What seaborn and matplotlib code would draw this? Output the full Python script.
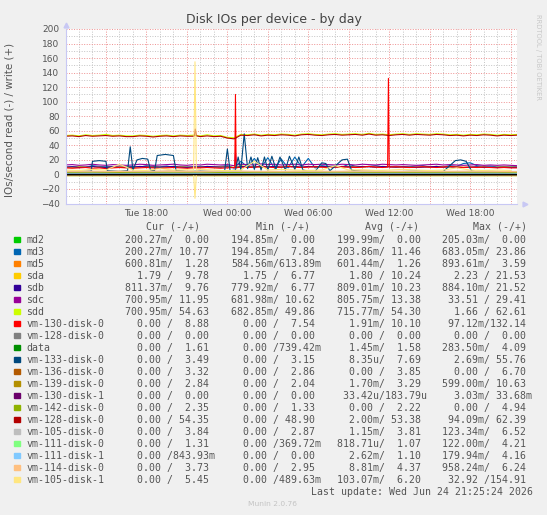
import numpy as np
import pandas as pd
import seaborn as sns
import matplotlib.pyplot as plt
from matplotlib.patches import Rectangle

sns.set_style("white")
plt.rcParams['font.family'] = ['DejaVu Sans']

W, H = 547, 515

# ---------------- data: hours since Tue 12:00 ----------------
T = np.arange(0, 34, 0.5)      # half-hour samples for the busy devices
T1 = np.arange(0, 34, 1.0)     # hourly samples
T2 = np.array([0, 2, 4, 6, 8, 10, 12, 14, 16, 18, 20, 22, 24, 26, 28, 30, 32, 33.5])

sdd_w = [53.5, 54, 53, 54.5, 53.5, 54, 55, 53.5, 54, 53,
         53, 54, 53.5, 52.5, 53.5, 54, 53, 54, 53.5, 54,
         53, 54.5, 53, 53.5, 51, 50.5, 55, 54.5, 55.5, 54,
         55, 54.5, 55.5, 55, 54, 55.5, 56, 55, 54.5, 55.5,
         56, 55, 55.5, 56, 55, 56.5, 55, 55.5, 54.5, 55.5,
         56, 55, 56, 55.5, 55, 56, 55.5, 54.5, 55, 54,
         55, 54.5, 55.5, 55, 54, 55, 54.5, 55]
vm128b_w = [52.5, 53, 52, 53.5, 52.5, 53, 53.5, 52.5, 53, 52,
            52, 53, 52.5, 51.5, 52.5, 53, 52, 53, 52.5, 52.5,
            52, 53, 52, 52.5, 50, 48.9, 54, 53.5, 54.5, 53,
            54, 53.5, 54.5, 54, 53, 54.5, 55, 54, 53.5, 54.5,
            55, 54, 54.5, 55, 54, 55.5, 54, 54.5, 53.5, 54.5,
            55, 54, 55, 54.5, 54, 55, 54.5, 53.5, 54, 53,
            54, 53.5, 54.5, 54, 53, 54, 53.5, 54]
sdc_w = [13, 13.5, 12.5, 13, 14, 13, 12.5, 13.5, 13, 12.5,
         13, 14, 13.5, 12.5, 13, 13.5, 14, 13, 12.5, 13.5,
         13, 14, 13.5, 13, 13.5, 12, 14, 13.5, 13, 14.5,
         13.5, 14, 13, 13.5, 14, 13, 14, 13.5, 14, 13.5,
         13, 14, 13.5, 13, 14, 13.5, 13, 14, 13.5, 13,
         13.5, 13, 12.5, 13, 13.5, 14, 13, 13.5, 13, 12.5,
         13, 13.5, 12.5, 13, 12.5, 13, 12.5, 12]
sdb_w = [10, 10.5, 9.5, 10, 11, 10, 9.5, 10.5, 10, 9.5,
         10, 11, 10.5, 10, 10, 10.5, 11, 10, 9.5, 10.5,
         10, 11, 10.5, 10, 10.5, 9, 11, 10.5, 10, 11.5,
         10.5, 11, 10, 10.5, 11, 10, 11, 10.5, 11, 10.5,
         10, 11, 10.5, 10, 11, 10.5, 10, 11, 10.5, 10,
         10.5, 10, 9.5, 10, 10.5, 11, 10, 10.5, 10, 9.5,
         10, 10.5, 9.5, 10, 9.5, 10, 9.5, 9.5]
sda_w = [10, 9.5, 10.5, 10, 11, 10, 9.5, 10, 10.5, 10,
         9.5, 10.5, 11, 10, 10, 9.5, 11, 10.5, 10, 9.5,
         10, 11, 10, 10.5, 11, 9.5, 12, 10.5, 11, 10,
         10.5, 11, 10, 11.5, 10.5, 10, 11, 10.5, 10, 11,
         10.5, 10, 11, 10.5, 10, 11, 10, 10.5, 11, 10,
         10.5, 10, 9.5, 10.5, 10, 11, 10.5, 10, 10.5, 10,
         10, 10.5, 10, 9.5, 10, 10.5, 10, 10]
md3_w = [10, 10.5, 11, 10, 12, 11, 10.5, 11, 10, 10.5,
         11, 10, 12, 11, 10.5, 11.5, 10, 11, 10.5, 10,
         11, 10.5, 10, 11, 12, 9, 18, 10, 22, 9,
         23, 8.5, 21, 9, 23.9, 10, 22, 9, 12, 11,
         11.5, 10, 14, 11, 10.5, 11, 12, 10.5, 11, 10,
         11, 10.5, 11.5, 12, 10, 11, 10.5, 12, 11, 15,
         16, 12, 11, 11.5, 10.5, 11, 10.5, 11]
vm130_w = [9, 8.5, 9, 9.5, 8.5, 9, 8, 9, 9.5, 9,
           8.5, 9, 9.5, 9, 8, 9, 9.5, 9, 8.5, 9,
           9, 9.5, 9, 8.5, 9, 9.5, 10, 9.5, 10, 10.5,
           10, 9.5, 10, 11, 10, 9.5, 10, 10.5, 10, 9.5,
           10, 10.5, 10, 9.5, 10, 11, 10, 9.5, 10, 10.5,
           10, 9.5, 10, 10.5, 10, 9.5, 10, 11, 10, 9.5,
           10, 9.5, 10, 9.5, 9, 9.5, 9, 9]

# vm-133-disk-0 write, read at its own change points
vm133_t = [0, 1, 1.9, 2.0, 2.5, 3.0, 3.1, 4, 4.6, 4.8, 5.0, 5.3, 5.7, 6.1, 6.3,
           6.6, 6.8, 7.4, 8.0, 8.2, 9, 10, 11, 11.8, 12.0, 12.2, 12.6, 12.8,
           13.0, 13.25, 13.5, 13.75, 14.0, 14.25, 14.5, 14.75, 15.0, 15.3, 15.6,
           15.9, 16.3, 16.6, 17.0, 17.3, 17.6, 17.9, 18.5, 19.0, 19.3, 19.6,
           20.5, 20.9, 21.2, 21.5, 22, 23, 24, 25, 26, 27, 28, 28.9, 29.3,
           29.7, 30.1, 30.4, 31, 32, 33.5]
vm133_w = [4, 4, 4.5, 18, 19, 18, 5, 4, 5, 38, 6, 20, 22, 21, 6,
           5, 26, 27.5, 26, 5, 4, 4.5, 4, 5, 35, 5, 6, 24,
           6, 55.8, 8, 24, 7, 23, 6, 24, 6, 25, 7,
           24, 6, 25, 7, 24, 6, 5, 4, 16, 15, 5,
           20, 21, 6, 5, 4, 4.5, 4, 4, 4.5, 4, 4, 19, 20,
           18, 5, 4, 4.5, 4, 4]

# quieter devices, two-hourly
md2_w = [0.0] * 18
md5_w = [1.2, 1.3, 1.1, 1.4, 1.2, 1.3, 1.5, 1.2, 1.1, 1.3, 1.2, 1.4, 1.2, 1.3, 1.1, 1.3, 1.2, 1.3]
data_w = [1.6, 1.5, 1.7, 1.5, 1.6, 1.4, 1.8, 1.6, 1.5, 1.7, 1.6, 1.5, 1.6, 1.7, 1.5, 1.6, 1.5, 1.6]
vm136_w = [3.9, 3.6, 4.2, 3.8, 4.5, 3.7, 4.1, 3.9, 3.5, 4.0, 3.8, 4.3, 3.7, 3.9, 3.6, 4.0, 3.8, 3.3]
vm139_w = [3.2, 3.5, 3.0, 3.4, 3.6, 3.1, 3.3, 3.5, 3.2, 3.0, 3.4, 3.3, 3.1, 3.5, 3.2, 3.4, 3.0, 2.8]
vm1301_w = [0.0] * 18
vm142_w = [2.2, 2.3, 2.0, 2.4, 2.1, 2.2, 2.5, 2.2, 2.1, 2.3, 2.2, 2.0, 2.3, 2.2, 2.4, 2.1, 2.2, 2.35]
vm128a_w = [0.0] * 18
vm1050_w = [3.8, 3.6, 4.0, 3.7, 3.9, 3.5, 4.2, 3.8, 3.7, 3.9, 3.6, 4.0, 3.8, 3.9, 3.7, 3.8, 3.6, 3.84]
vm1110_w = [1.1, 1.0, 1.2, 0.9, 1.1, 1.0, 1.3, 1.1, 1.0, 1.1, 0.9, 1.2, 1.0, 1.1, 1.0, 1.2, 1.0, 1.31]
vm1111_w = [1.1, 1.2, 1.0, 1.1, 1.3, 1.0, 1.2, 1.1, 1.0, 1.2, 1.1, 1.0, 1.2, 1.1, 1.0, 1.1, 1.0, 0.84]
vm114_w = [4.3, 4.5, 4.1, 4.6, 4.2, 4.4, 4.8, 4.3, 4.2, 4.5, 4.3, 4.6, 4.2, 4.4, 4.3, 4.5, 4.2, 3.73]
vm1051_w = [6, 5.5, 7, 6, 14, 6, 5.5, 8, 6, 6.5, 7, 6, 5, 6, 18, 6, 7,
            6, 5.5, 6, 12, 6, 6.5, 5.5, 6, 7, 6, 5.5, 6, 9, 6, 5.5, 6, 5.5]

# reads (drawn below zero)
md2_r = [-0.2] * 18
md3_r = [-0.2] * 18
md5_r = [-0.6, -0.6, -0.59, -0.6, -0.61, -0.6, -0.6, -0.59, -0.6, -0.6, -0.61, -0.6, -0.6, -0.6, -0.59, -0.6, -0.6, -0.6]
sda_r = [-1.8, -1.8, -1.79, -1.8, -1.82, -1.8, -1.81, -1.8, -1.79, -1.8, -1.8, -1.8, -1.81, -1.8, -1.8, -1.79, -1.8, -1.79]
sdb_r = [-0.81, -0.8, -0.81, -0.82, -0.8, -0.81, -0.81, -0.8, -0.81, -0.81, -0.8, -0.81, -0.82, -0.81, -0.8, -0.81, -0.81, -0.81]
sdc_r = [-0.8, -0.7, -0.8, -0.9, -0.8, -0.8, -0.7, -0.8, -0.8, -0.9, -0.8, -0.8, -0.7, -0.8, -0.8, -0.8, -0.8, -0.7]
sdd_r = [-0.7, -0.72, -0.7, -0.71, -0.72, -0.7, -0.7, -0.72, -0.71, -0.7, -0.72, -0.7, -0.71, -0.7, -0.72, -0.71, -0.7, -0.7]
zero_r = [0.0] * 18

# short spikes: (times, values)
vm130_spike_t = [12.55, 12.6, 12.65, 23.88, 23.94, 24.0]
vm130_spike_v = [9, 110, 9, 10, 132.1, 10]
sdc_spike_t = [12.55, 12.6, 12.68]
sdc_spike_v = [13, 29.4, 13]
vm128b_spike_t = [9.55, 9.62, 9.7]
vm128b_spike_v = [53, 62.4, 53]
vm1051_spike_t = [9.5, 9.6, 9.7]
vm1051_spike_v = [6, 154.9, 6]
vm1051_rspike_t = [9.5, 9.6, 9.7]
vm1051_rspike_v = [0, -32.9, 0]

names = ["md2", "md3", "md5", "sda", "sdb", "sdc", "sdd", "vm-130-disk-0",
         "vm-128-disk-0", "data", "vm-133-disk-0", "vm-136-disk-0",
         "vm-139-disk-0", "vm-130-disk-1", "vm-142-disk-0", "vm-128-disk-0",
         "vm-105-disk-0", "vm-111-disk-0", "vm-111-disk-1", "vm-114-disk-0",
         "vm-105-disk-1"]
colors = ["#00CC00", "#0066B3", "#FF8000", "#FFCC00", "#330099", "#990099",
          "#CCFF00", "#FF0000", "#808080", "#008F00", "#00487D", "#B35A00",
          "#B38F00", "#6B006B", "#8FB300", "#B30000", "#BEBEBE", "#80FF80",
          "#80C9FF", "#FFC080", "#FFE680"]

cur = ["200.27m/  0.00", "200.27m/ 10.77", "600.81m/  1.28", "  1.79 /  9.78",
       "811.37m/  9.76", "700.95m/ 11.95", "700.95m/ 54.63", "  0.00 /  8.88",
       "  0.00 /  0.00", "  0.00 /  1.61", "  0.00 /  3.49", "  0.00 /  3.32",
       "  0.00 /  2.84", "  0.00 /  0.00", "  0.00 /  2.35", "  0.00 / 54.35",
       "  0.00 /  3.84", "  0.00 /  1.31", "  0.00 /843.93m", "  0.00 /  3.73",
       "  0.00 /  5.45"]
mins = ["194.85m/  0.00", "194.85m/  7.84", "584.56m/613.89m", "  1.75 /  6.77",
        "779.92m/  6.77", "681.98m/ 10.62", "682.85m/ 49.86", "  0.00 /  7.54",
        "  0.00 /  0.00", "  0.00 /739.42m", "  0.00 /  3.15", "  0.00 /  2.86",
        "  0.00 /  2.04", "  0.00 /  0.00", "  0.00 /  1.33", "  0.00 / 48.90",
        "  0.00 /  2.87", "  0.00 /369.72m", "  0.00 /  0.00", "  0.00 /  2.95",
        "  0.00 /489.63m"]
avgs = ["199.99m/  0.00", "203.86m/ 11.46", "601.44m/  1.26", "  1.80 / 10.24",
        "809.01m/ 10.23", "805.75m/ 13.38", "715.77m/ 54.30", "  1.91m/ 10.10",
        "  0.00 /  0.00", "  1.45m/  1.58", "  8.35u/  7.69", "  0.00 /  3.85",
        "  1.70m/  3.29", " 33.42u/183.79u", "  0.00 /  2.22", "  2.00m/ 53.38",
        "  1.15m/  3.81", "818.71u/  1.07", "  2.62m/  1.10", "  8.81m/  4.37",
        "103.07m/  6.20"]
maxs = ["205.03m/  0.00", "683.05m/ 23.86", "893.61m/  3.59", "  2.23 / 21.53",
        "884.10m/ 21.52", " 33.51 / 29.41", "  1.66 / 62.61", " 97.12m/132.14",
        "  0.00 /  0.00", "283.50m/  4.09", "  2.69m/ 55.76", "  0.00 /  6.70",
        "599.00m/ 10.63", "  3.03m/ 33.68m", "  0.00 /  4.94", " 94.09m/ 62.39",
        "123.34m/  6.52", "122.00m/  4.21", "179.94m/  4.16", "958.24m/  6.24",
        " 32.92 /154.91"]

x_ticks = [6, 12, 18, 24, 30]
x_labels = ["Tue 18:00", "Wed 00:00", "Wed 06:00", "Wed 12:00", "Wed 18:00"]


def with_spike(t, v, st, sv):
    t = np.concatenate([np.asarray(t, float), np.asarray(st, float)])
    v = np.concatenate([np.asarray(v, float), np.asarray(sv, float)])
    order = np.argsort(t, kind="stable")
    return t[order], v[order]


# (times, values, colour) in munin draw order
series = [
    (T2, md2_w, 0), (T2, md2_r, 0),
    (T, md3_w, 1), (T2, md3_r, 1),
    (T2, md5_w, 2), (T2, md5_r, 2),
    (T, sda_w, 3), (T2, sda_r, 3),
    (T, sdb_w, 4), (T2, sdb_r, 4),
    (*with_spike(T, sdc_w, sdc_spike_t, sdc_spike_v), 5), (T2, sdc_r, 5),
    (T, sdd_w, 6), (T2, sdd_r, 6),
    (*with_spike(T, vm130_w, vm130_spike_t, vm130_spike_v), 7), (T2, zero_r, 7),
    (T2, vm128a_w, 8),
    (T2, data_w, 9),
    (vm133_t, vm133_w, 10),
    (T2, vm136_w, 11),
    (T2, vm139_w, 12),
    (T2, vm1301_w, 13),
    (T2, vm142_w, 14),
    (*with_spike(T, vm128b_w, vm128b_spike_t, vm128b_spike_v), 15),
    (T2, vm1050_w, 16),
    (T2, vm1110_w, 17),
    (T2, vm1111_w, 18),
    (T2, vm114_w, 19),
    (*with_spike(T1, vm1051_w, vm1051_spike_t, vm1051_spike_v), 20),
    (*with_spike(T2, zero_r, vm1051_rspike_t, vm1051_rspike_v), 20),
]

# ---------------- figure ----------------
fig = plt.figure(figsize=(W / 100, H / 100), dpi=100, facecolor="#F0F0F0")
ax = fig.add_axes([65.5 / W, 1 - 203.5 / H, 451.2 / W, 174.5 / H])
ax.set_facecolor("white")

for t, v, ci in series:
    sns.lineplot(x=np.asarray(t, float), y=np.asarray(v, float), color=colors[ci],
                 lw=0.8, ax=ax, estimator=None, sort=False, legend=False)

ax.axhline(0, color="black", lw=1.0, zorder=2.1)

ax.set_xlim(0, 33.45)
ax.set_ylim(-40, 200)
ax.set_xticks(np.arange(0, 34, 3))
ax.set_xticklabels([x_labels[x_ticks.index(h)] if h in x_ticks else "" for h in range(0, 34, 3)])
ax.set_xticks(np.arange(0, 34, 1), minor=True)
ax.set_yticks(np.arange(-40, 201, 20))
ax.set_yticks(np.arange(-40, 201, 10), minor=True)
ax.grid(which="minor", color="#c4c4c4", linestyle=(0, (1, 1.6)), lw=0.7, zorder=0)
ax.grid(which="major", color="#ee9090", linestyle=(0, (1, 1.6)), lw=0.7, zorder=0)
ax.set_axisbelow(True)
ax.tick_params(which="both", length=0, labelsize=6.5, labelcolor="#555555")
ax.tick_params(axis="y", pad=4.3)
ax.tick_params(axis="x", pad=4)
ax.set_xlabel("")
ax.set_ylabel("")
for s in ["top", "right"]:
    ax.spines[s].set_visible(False)
for s in ["left", "bottom"]:
    ax.spines[s].set_color("#c8c8f4")
    ax.spines[s].set_linewidth(0.8)
ax.plot([0], [1 + 4 / 174.5], marker="^", ms=3.5, color="#c8c8f4",
        transform=ax.transAxes, clip_on=False)
ax.plot([1 + 8 / 451.2], [0], marker=">", ms=3.5, color="#c8c8f4",
        transform=ax.transAxes, clip_on=False)


def fx(x):
    return x / W


def fy(y):
    return 1 - y / H


fig.text(fx(273.5), fy(19), "Disk IOs per device - by day", ha="center", va="center",
         fontsize=9, color="#444444")
fig.text(fx(10), fy(120), "IOs/second read (-) / write (+)", rotation=90,
         ha="center", va="center", fontsize=7.4, color="#555555")
fig.text(fx(538), fy(14), "RRDTOOL / TOBI OETIKER", rotation=270, ha="center", va="top",
         fontsize=4.9, color="#c8c8c8")

mono = "DejaVu Sans Mono"
fs = 7.15
tc = "#555555"
for hx, lab in zip([146.5, 255.8, 364.6, 472.8], ["Cur (-/+)", "Min (-/+)", "Avg (-/+)", "Max (-/+)"]):
    fig.text(fx(hx), fy(226.7), lab, family=mono, fontsize=fs, color=tc, va="center")

for i, name in enumerate(names):
    y = 239.7 + 12 * i
    fig.patches.append(Rectangle((fx(14), fy(y + 2.7)), 5.5 / W, 5.4 / H,
                                 transform=fig.transFigure, color=colors[i], figure=fig))
    fig.text(fx(26.2), fy(y), name, family=mono, fontsize=fs, color=tc, va="center")
    for cx, col in zip([124.9, 231.3, 336.7, 442.4], [cur, mins, avgs, maxs]):
        fig.text(fx(cx), fy(y), col[i], family=mono, fontsize=fs, color=tc, va="center")

fig.text(fx(533), fy(491.7), "Last update: Wed Jun 24 21:25:24 2026", family=mono,
         fontsize=fs, color=tc, ha="right", va="center")
fig.text(fx(273), fy(504.3), "Munin 2.0.76", ha="center", va="center", fontsize=5.4,
         color="#c4c4c4")

fig.savefig("out.png", dpi=100, facecolor=fig.get_facecolor())
